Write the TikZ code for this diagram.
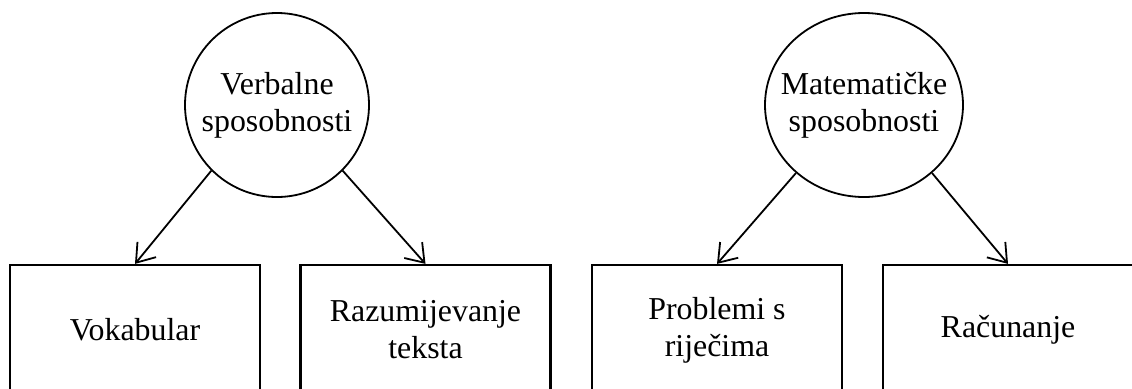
\documentclass[tikz,border=0pt]{standalone}
\usepackage{fontspec}
\setmainfont{Liberation Serif}
\usetikzlibrary{arrows.meta,shapes.geometric}
\tikzset{
  txt/.style={align=center, font=\fontsize{32}{37}\selectfont},
  lat/.style={draw, line width=1.8bp, inner sep=0pt},
  obs/.style={draw, line width=2.2bp, minimum width=250bp, minimum height=130bp, inner sep=0pt, txt},
  conn/.style={line width=1.8bp, -{Straight Barb[length=17bp, width=24bp, line width=1.8bp]}}
}
\begin{document}
\begin{tikzpicture}[x=1bp, y=-1bp]
\useasboundingbox (0,0) rectangle (1132,388);
\clip (0,0) rectangle (1132,388);
\fill[white] (0,0) rectangle (1132,388);
\node[lat, circle, minimum size=184bp, label={[txt]center:Verbalne\\sposobnosti}] (v) at (277,105) {};
\node[lat, ellipse, minimum width=198bp, minimum height=184bp, label={[txt]center:Matematičke\\sposobnosti}] (m) at (864,105) {};
\node[obs] (b1) at (135,330) {Vokabular};
\node[obs] (b2) at (425.5,330) {Razumijevanje\\teksta};
\node[obs] (b3) at (717,330) {Problemi s\\riječima};
\node[obs] (b4) at (1008,330) {Računanje};
\draw[conn] (v.-135) -- (b1.north);
\draw[conn] (v.-45) -- (b2.north);
\draw[conn] (m.-135) -- (b3.north);
\draw[conn] (m.-45) -- (b4.north);
\end{tikzpicture}
\end{document}
